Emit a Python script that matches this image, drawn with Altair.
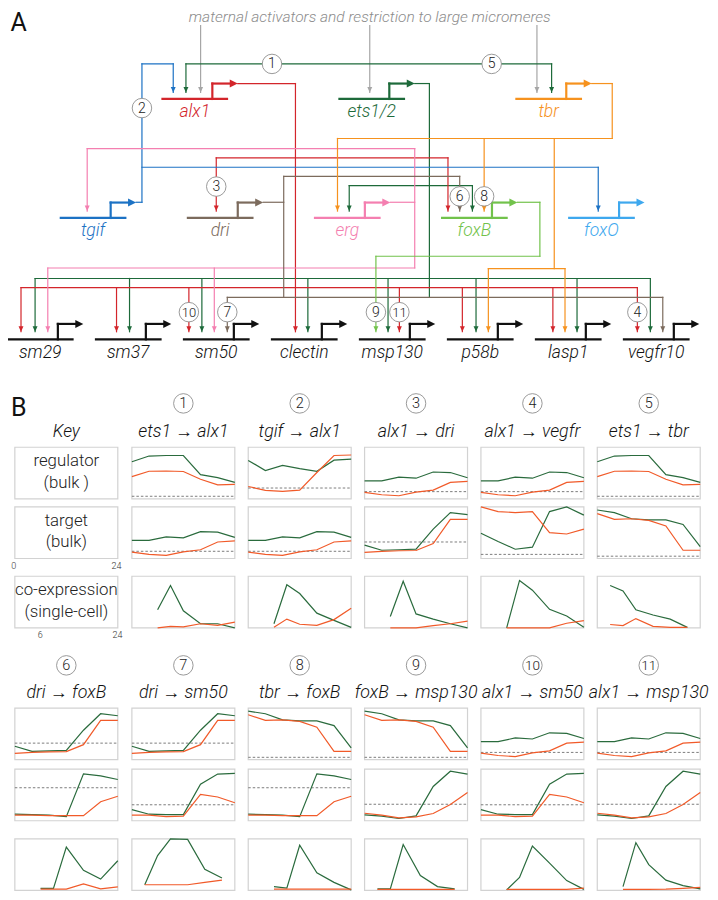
import altair as alt
import pandas as pd

# ---------------------------------------------------------------- colours
RED = "#d3252b"; GREEN = "#1d6a3a"; BLUE = "#1c72c4"; ORANGE = "#f6921e"
PINK = "#f47fb0"; BROWN = "#7c6b5d"; LGREEN = "#72c24b"; LBLUE = "#3ea8ee"
GREY = "#a6a6a6"; BLACK = "#111111"
LINE_G = "#2a6b3d"; LINE_O = "#f15a29"; BOX = "#d2d2d2"; DASH = "#6e6e6e"

# ---------------------------------------------------------------- panel A data
TOP_NOTE = "maternal activators and restriction to large micromeres"
PANEL_LABELS = ["A", "B"]

GENES_T1 = ["alx1", "ets1/2", "tbr"]
GENES_T1_X = [158, 339, 520]
GENES_T1_C = [RED, GREEN, ORANGE]
GENES_T2 = ["tgif", "dri", "erg", "foxB", "foxO"]
GENES_T2_X = [54, 184, 314, 444, 574]
GENES_T2_C = [BLUE, BROWN, PINK, LGREEN, LBLUE]
GENES_T3 = ["sm29", "sm37", "sm50", "clectin", "msp130", "p58b", "lasp1", "vegfr10"]
GENES_T3_X = [0, 90, 180, 270, 360, 450, 540, 630]
TIER_BASE = [92.7, 214, 337.7]

# wiring of the network (colour, polyline)
WIRES = [
    (GREY, [(197, 18), (197, 86)]),
    (GREY, [(370, 18), (370, 86)]),
    (GREY, [(541, 18), (541, 86)]),
    (GREEN, [(416, 77), (431, 77), (431, 295)]),
    (GREEN, [(182, 86), (182, 57), (556, 57), (556, 86)]),
    (GREEN, [(349, 207), (349, 181), (475, 181), (475, 207)]),
    (GREEN, [(27.7, 330), (27.7, 275.7), (657, 275.7), (657, 330)]),
    (GREEN, [(124.3, 275.7), (124.3, 330)]),
    (GREEN, [(198.3, 275.7), (198.3, 330)]),
    (GREEN, [(306.7, 275.7), (306.7, 330)]),
    (GREEN, [(388.7, 275.7), (388.7, 330)]),
    (GREEN, [(478.7, 275.7), (478.7, 330)]),
    (GREEN, [(582, 275.7), (582, 330)]),
    (RED, [(235, 77), (294, 77), (294, 330)]),
    (RED, [(213, 207), (213, 152.7), (450, 152.7), (450, 207)]),
    (RED, [(13.3, 330), (13.3, 285), (643.7, 285), (643.7, 330)]),
    (RED, [(111, 285), (111, 330)]),
    (RED, [(185, 285), (185, 330)]),
    (RED, [(400.3, 285), (400.3, 330)]),
    (RED, [(464.7, 285), (464.7, 330)]),
    (RED, [(557.3, 285), (557.3, 330)]),
    (BLUE, [(131, 198), (137, 198), (137, 57), (169, 57), (169, 86)]),
    (BLUE, [(137, 162.3), (603.7, 162.3), (603.7, 207)]),
    (PINK, [(391, 198), (416, 198)]),
    (PINK, [(81, 207), (81, 143.3), (416, 143.3), (416, 265)]),
    (PINK, [(40.7, 330), (40.7, 265), (416, 265)]),
    (PINK, [(211, 265), (211, 330)]),
    (BROWN, [(261, 198), (282, 198)]),
    (BROWN, [(462, 207), (462, 171.7), (282, 171.7), (282, 295)]),
    (BROWN, [(224.3, 330), (224.3, 295), (669.7, 295), (669.7, 330)]),
    (ORANGE, [(597, 77), (618, 77), (618, 133), (337, 133), (337, 207)]),
    (ORANGE, [(487, 133), (487, 207)]),
    (ORANGE, [(558.7, 133), (558.7, 265.7)]),
    (ORANGE, [(491.3, 330), (491.3, 265.7), (569.7, 265.7), (569.7, 330)]),
    (LGREEN, [(521, 198), (544, 198), (544, 253), (376.3, 253), (376.3, 330)]),
]

# input arrowheads (x, tip y, colour)
INPUTS = [
    (169, 86, BLUE), (182, 86, GREEN), (197, 86, GREY), (370, 86, GREY),
    (541, 86, GREY), (556, 86, GREEN),
    (81, 207, PINK), (213, 207, RED), (337, 207, ORANGE), (349, 207, GREEN),
    (450, 207, RED), (462, 207, BROWN), (475, 207, GREEN), (487, 207, ORANGE),
    (603.7, 207, BLUE),
    (13.3, 330, RED), (27.7, 330, GREEN), (40.7, 330, PINK),
    (111, 330, RED), (124.3, 330, GREEN),
    (185, 330, RED), (198.3, 330, GREEN), (211, 330, PINK), (224.3, 330, BROWN),
    (294, 330, RED), (306.7, 330, GREEN),
    (376.3, 330, LGREEN), (388.7, 330, GREEN), (400.3, 330, RED),
    (464.7, 330, RED), (478.7, 330, GREEN), (491.3, 330, ORANGE),
    (557.3, 330, RED), (569.7, 330, ORANGE), (582, 330, GREEN),
    (643.7, 330, RED), (657, 330, GREEN), (669.7, 330, BROWN),
]

# numbered links in panel A
LINK_NUM = ["1", "2", "3", "4", "5", "6", "7", "8", "9", "10", "11"]
LINK_X = [270, 137, 213, 643.7, 494.7, 462, 224.3, 487, 376.3, 185, 400.3]
LINK_Y = [57, 102, 182, 310, 57, 192, 310, 192, 310, 310, 310]

# ---------------------------------------------------------------- panel B data
BULK_T = [0, 4, 8, 12, 16, 20, 24]
SC_T_LATE = [10.5, 12.75, 15, 18, 21, 24]
SC_T_EARLY = [8.25, 10.5, 12.75, 15.75, 18.75, 21.75]

ETS1_G = [0.72, 0.83, 0.84, 0.84, 0.47, 0.41, 0.32]
ETS1_O = [0.43, 0.535, 0.54, 0.53, 0.38, 0.27, 0.28]
TGIF_G = [0.745, 0.55, 0.65, 0.585, 0.535, 0.75, 0.77]
TGIF_O = [0.24, 0.165, 0.146, 0.17, 0.51, 0.84, 0.85]
ALX1_G = [0.35, 0.35, 0.42, 0.40, 0.52, 0.51, 0.41]
ALX1_O = [0.125, 0.08, 0.06, 0.13, 0.17, 0.32, 0.34]
DRI_G = [0.26, 0.16, 0.17, 0.18, 0.57, 0.89, 0.85]
DRI_O = [0.12, 0.14, 0.15, 0.155, 0.29, 0.76, 0.76]
VEGFR_G = [0.49, 0.33, 0.18, 0.22, 0.91, 1.0, 0.84]
VEGFR_O = [1.0, 0.91, 0.89, 0.91, 0.5, 0.475, 0.57]
TBR_G = [0.94, 0.89, 0.77, 0.75, 0.75, 0.66, 0.23]
TBR_O = [0.87, 0.76, 0.77, 0.74, 0.63, 0.16, 0.16]
FOXB_G = [0.127, 0.12, 0.11, 0.08, 0.91, 0.87, 0.80]
FOXB_O = [0.11, 0.11, 0.10, 0.10, 0.10, 0.37, 0.475]
SM50_G = [0.215, 0.127, 0.12, 0.12, 0.71, 0.905, 0.92]
SM50_O = [0.11, 0.11, 0.08, 0.09, 0.51, 0.46, 0.35]
MSP130_G = [0.114, 0.09, 0.044, 0.095, 0.665, 0.96, 0.905]
MSP130_O = [0.146, 0.108, 0.057, 0.076, 0.14, 0.316, 0.55]

THR_ETS1 = 0.05; THR_TGIF = 0.21; THR_ALX1 = 0.14; THR_DRI = 0.32; THR_VEGFR = 0.08
THR_TBR = 0.045; THR_FOXB = 0.64; THR_SM50 = 0.31; THR_MSP130 = 0.32

SC1_G = [0.35, 0.82, 0.33, 0.08, 0.08, 0.0];     SC1_O = [0.0, 0.03, 0.02, 0.08, 0.05, 0.11]
SC2_G = [0.08, 0.835, 0.665, 0.285, 0.146, 0.01]; SC2_O = [0.01, 0.17, 0.07, 0.05, 0.16, 0.38]
SC3_G = [0.22, 0.905, 0.27, 0.17, 0.08, 0.0];    SC3_O = [0.0, 0.0, 0.0, 0.045, 0.08, 0.13]
SC4_G = [0.0, 0.92, 0.73, 0.36, 0.23, 0.01];     SC4_O = [0.0, 0.0, 0.0, 0.0, 0.09, 0.14]
SC5_G = [0.82, 0.715, 0.35, 0.25, 0.17, 0.01];   SC5_O = [0.065, 0.045, 0.18, 0.03, 0.01, 0.01]
SC6_G = [0.04, 0.04, 0.84, 0.39, 0.22, 0.575];   SC6_O = [0.025, 0.025, 0.025, 0.125, 0.03, 0.07]
SC7_G = [0.11, 0.675, 1.0, 0.99, 0.41, 0.24];    SC7_O = [0.11, 0.11, 0.11, 0.11, 0.155, 0.2]
SC8_G = [0.075, 0.044, 0.875, 0.34, 0.156, 0.01]; SC8_O = [0.025, 0.025, 0.025, 0.025, 0.025, 0.025]
SC9_G = [0.03, 0.03, 0.89, 0.29, 0.075, 0.03];   SC9_O = [0.02, 0.02, 0.02, 0.02, 0.02, 0.02]
SC10_G = [0.01, 0.25, 0.86, 0.53, 0.19, 0.02];   SC10_O = [0.02, 0.02, 0.02, 0.02, 0.02, 0.045]
SC11_G = [0.075, 0.925, 0.5, 0.2, 0.094, 0.03];  SC11_O = [0.02, 0.02, 0.02, 0.025, 0.04, 0.06]

PAIR_TITLES = ["ets1 → alx1", "tgif → alx1", "alx1 → dri", "alx1 → vegfr", "ets1 → tbr",
               "dri → foxB", "dri → sm50", "tbr → foxB", "foxB → msp130", "alx1 → sm50",
               "alx1 → msp130"]
PAIRS = [
    # (block, column, regulator, target, single cell)
    (0, 1, (ETS1_G, ETS1_O, THR_ETS1), (ALX1_G, ALX1_O, THR_ALX1), (SC_T_LATE, SC1_G, SC1_O)),
    (0, 2, (TGIF_G, TGIF_O, THR_TGIF), (ALX1_G, ALX1_O, THR_ALX1), (SC_T_LATE, SC2_G, SC2_O)),
    (0, 3, (ALX1_G, ALX1_O, THR_ALX1), (DRI_G, DRI_O, THR_DRI), (SC_T_LATE, SC3_G, SC3_O)),
    (0, 4, (ALX1_G, ALX1_O, THR_ALX1), (VEGFR_G, VEGFR_O, THR_VEGFR), (SC_T_LATE, SC4_G, SC4_O)),
    (0, 5, (ETS1_G, ETS1_O, THR_ETS1), (TBR_G, TBR_O, THR_TBR), (SC_T_EARLY, SC5_G, SC5_O)),
    (1, 0, (DRI_G, DRI_O, THR_DRI), (FOXB_G, FOXB_O, THR_FOXB), (SC_T_LATE, SC6_G, SC6_O)),
    (1, 1, (DRI_G, DRI_O, THR_DRI), (SM50_G, SM50_O, THR_SM50), (SC_T_EARLY, SC7_G, SC7_O)),
    (1, 2, (TBR_G, TBR_O, THR_TBR), (FOXB_G, FOXB_O, THR_FOXB), (SC_T_LATE, SC8_G, SC8_O)),
    (1, 3, (TBR_G, TBR_O, THR_TBR), (MSP130_G, MSP130_O, THR_MSP130), (SC_T_EARLY, SC9_G, SC9_O)),
    (1, 4, (ALX1_G, ALX1_O, THR_ALX1), (SM50_G, SM50_O, THR_SM50), (SC_T_LATE, SC10_G, SC10_O)),
    (1, 5, (ALX1_G, ALX1_O, THR_ALX1), (MSP130_G, MSP130_O, THR_MSP130), (SC_T_LATE, SC11_G, SC11_O)),
]
KEY_TEXT = [("regulator", "(bulk )"), ("target", "(bulk)"), ("co-expression", "(single-cell)")]

# ---------------------------------------------------------------- layout
COL_X = [7, 126.7, 245.7, 364.7, 483.7, 602.7]
BOX_W = 105.3
BOX_H = 52.6
ROW_TOP = [[447.7, 508.5, 579.2], [713.5, 775.8, 846.8]]
NUM_Y = [403, 670]
TITLE_Y = [432, 698]

# ---------------------------------------------------------------- build tables
segs, heads, rheads, circles, txt_i, txt_n, txt_b, boxes, lines, dashes = [], [], [], [], [], [], [], [], [], []


def poly(color, pts, w=1.2):
    for a, b in zip(pts[:-1], pts[1:]):
        segs.append(dict(x=a[0], y=a[1], x2=b[0], y2=b[1], c=color, w=w))


for color, pts in WIRES:
    poly(color, pts)
for x, y, c in INPUTS:
    heads.append(dict(x=x, y=y, c=c))

for genes, xs_, cols, base in [(GENES_T1, GENES_T1_X, GENES_T1_C, TIER_BASE[0]),
                               (GENES_T2, GENES_T2_X, GENES_T2_C, TIER_BASE[1]),
                               (GENES_T3, GENES_T3_X, [BLACK] * 8, TIER_BASE[2])]:
    for g, x0, c in zip(genes, xs_, cols):
        top = base - 15.7
        poly(c, [(x0, base), (x0 + 66, base)], 2.2)
        poly(c, [(x0 + 51, base), (x0 + 51, top), (x0 + 71, top)], 2.2)
        rheads.append(dict(x=x0 + 77, y=top, c=c))
        txt_i.append(dict(x=x0 + 33, y=base + 13.5, t=g, s=17.5, c=c))

for n, x, y in zip(LINK_NUM, LINK_X, LINK_Y):
    circles.append(dict(x=x, y=y))
    txt_n.append(dict(x=x, y=y + 0.5, t=n, s=14 if len(n) == 1 else 13, c="#222222"))

txt_i.append(dict(x=370, y=8.9, t=TOP_NOTE, s=15.5, c="#8c8c8c"))
txt_b.append(dict(x=11, y=15, t=PANEL_LABELS[0], s=25, c=BLACK))
txt_b.append(dict(x=11, y=408, t=PANEL_LABELS[1], s=25, c=BLACK))

# key column
txt_i.append(dict(x=COL_X[0] + BOX_W / 2, y=TITLE_Y[0], t="Key", s=17.5, c=BLACK))
for r, (l1, l2) in enumerate(KEY_TEXT):
    top = ROW_TOP[0][r]
    boxes.append(dict(x=COL_X[0], x2=COL_X[0] + BOX_W, y=top, y2=top + BOX_H))
    txt_n.append(dict(x=COL_X[0] + BOX_W / 2, y=top + 14.5, t=l1, s=16.8, c="#222222"))
    txt_n.append(dict(x=COL_X[0] + BOX_W / 2, y=top + 36, t=l2, s=16.8, c="#222222"))
for t, x, y in [("0", 6, 569), ("24", 111, 569), ("6", 33, 639), ("24", 112, 639)]:
    txt_n.append(dict(x=x, y=y, t=t, s=9, c="#333333"))

# small multiples
for k, (blk, col, reg, tgt, sc) in enumerate(PAIRS):
    x0 = COL_X[col]
    xc = x0 + BOX_W / 2
    circles.append(dict(x=xc, y=NUM_Y[blk]))
    txt_n.append(dict(x=xc, y=NUM_Y[blk] + 0.5, t=str(k + 1), s=14.5 if k < 9 else 13.5, c="#222222"))
    txt_i.append(dict(x=xc, y=TITLE_Y[blk], t=PAIR_TITLES[k], s=17.8, c=BLACK))
    for r in range(3):
        top = ROW_TOP[blk][r]
        boxes.append(dict(x=x0, x2=x0 + BOX_W, y=top, y2=top + BOX_H))
    for r, (g, o, thr) in enumerate([reg, tgt]):
        top = ROW_TOP[blk][r]
        bot = top + BOX_H
        dashes.append(dict(x=x0, x2=x0 + BOX_W, y=bot - thr * BOX_H))
        for name, vals, c in [("g", g, LINE_G), ("o", o, LINE_O)]:
            for t, v in zip(BULK_T, vals):
                lines.append(dict(k=f"{k}-{r}-{name}", x=x0 + t / 24 * BOX_W, y=bot - v * BOX_H, c=c))
    times, g, o = sc
    top = ROW_TOP[blk][2]
    bot = top + BOX_H
    for name, vals, c in [("g", g, LINE_G), ("o", o, LINE_O)]:
        for t, v in zip(times, vals):
            lines.append(dict(k=f"{k}-2-{name}", x=x0 + (t - 6) / 18 * BOX_W, y=bot - v * BOX_H, c=c))

# ---------------------------------------------------------------- chart
XS = alt.Scale(domain=[0, 718], nice=False, zero=False)
YS = alt.Scale(domain=[0, 901], nice=False, zero=False, reverse=True)
X = alt.X("x:Q", scale=XS, axis=None)
Y = alt.Y("y:Q", scale=YS, axis=None)
COL = alt.Color("c:N", scale=None)

DOWN = "M-0.9,-2L0,0L0.9,-2Z"
RIGHT = "M-2,-1L0,0L-2,1Z"

box_layer = alt.Chart(pd.DataFrame(boxes)).mark_rect(
    fillOpacity=0, stroke=BOX, strokeWidth=1.2
).encode(x=X, x2="x2:Q", y=Y, y2="y2:Q")

dash_layer = alt.Chart(pd.DataFrame(dashes)).mark_rule(
    color=DASH, strokeWidth=0.9, strokeDash=[2.5, 2]
).encode(x=X, x2="x2:Q", y=Y)

line_layer = alt.Chart(pd.DataFrame(lines)).mark_line(strokeWidth=1.2).encode(
    x=X, y=Y, color=COL, detail="k:N", order=alt.Order("x:Q"))

seg_layer = alt.Chart(pd.DataFrame(segs)).mark_rule(strokeCap="square").encode(
    x=X, x2="x2:Q", y=Y, y2="y2:Q", color=COL, strokeWidth=alt.StrokeWidth("w:Q", scale=None))

head_layer = alt.Chart(pd.DataFrame(heads)).mark_point(
    shape=DOWN, filled=True, size=30, opacity=1, strokeWidth=0
).encode(x=X, y=Y, color=COL)

rhead_layer = alt.Chart(pd.DataFrame(rheads)).mark_point(
    shape=RIGHT, filled=True, size=64, opacity=1, strokeWidth=0
).encode(x=X, y=Y, color=COL)

circle_layer = alt.Chart(pd.DataFrame(circles)).mark_point(
    shape="circle", size=380, fill="white", stroke="#8f8f8f", strokeWidth=0.9,
    opacity=1, fillOpacity=1
).encode(x=X, y=Y)

FONT = "Roboto"
ti_layer = alt.Chart(pd.DataFrame(txt_i)).mark_text(
    font=FONT, fontStyle="italic", fontWeight=300, align="center", baseline="middle"
).encode(x=X, y=Y, text="t:N", size=alt.Size("s:Q", scale=None), color=COL)

tn_layer = alt.Chart(pd.DataFrame(txt_n)).mark_text(
    font=FONT, fontWeight=300, align="center", baseline="middle"
).encode(x=X, y=Y, text="t:N", size=alt.Size("s:Q", scale=None), color=COL)

tb_layer = alt.Chart(pd.DataFrame(txt_b)).mark_text(
    font=FONT, fontWeight=400, align="center", baseline="middle"
).encode(x=X, y=Y, text="t:N", size=alt.Size("s:Q", scale=None), color=COL)

chart = alt.layer(
    box_layer, dash_layer, line_layer, seg_layer, head_layer, rhead_layer,
    circle_layer, ti_layer, tn_layer, tb_layer
).properties(
    width=702, height=884, padding=0,
    autosize=alt.AutoSizeParams(type="none")
).configure_view(stroke=None)

chart.save("out.html", embed_options={"renderer": "svg", "actions": False})
